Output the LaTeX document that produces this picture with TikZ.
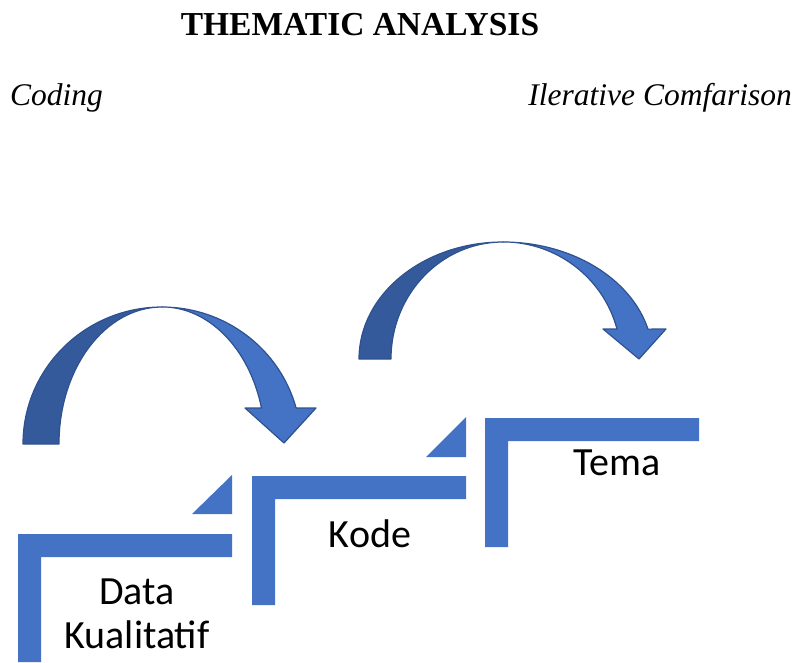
\documentclass[tikz,border=0pt]{standalone}
\usepackage{fontspec}
\setmainfont{Liberation Serif}
\newfontfamily\calibri{Carlito}
\usepackage{tikz}
\usetikzlibrary{shapes,arrows}
\definecolor{stepblue}{RGB}{68,114,196}
\definecolor{arcdark}{RGB}{52,90,156}
\definecolor{arcline}{RGB}{47,82,143}
\tikzstyle{stepbar} = [fill = stepblue, draw = none]
\tikzstyle{arcback} = [fill = arcdark, draw = arcline, line width = 1.2pt, line join = round]
\tikzstyle{arcfront} = [fill = stepblue, draw = arcline, line width = 1.2pt, line join = round]
\tikzstyle{steplabel} = [font = \calibri\fontsize{40}{44}\selectfont, align = center, anchor = base, inner sep = 0]
\tikzstyle{sidelabel} = [font = \fontsize{31.5}{36}\selectfont\itshape, anchor = base west, inner sep = 0]

\begin{document}
\begin{tikzpicture}[x = 1pt, y = -1pt]
\useasboundingbox (0,0) rectangle (795,662);
\node [font = \fontsize{33.5}{36}\selectfont\bfseries, anchor = base, inner sep = 0] (title) at (360,35) {THEMATIC ANALYSIS};
\node [sidelabel] (coding) at (10,105) {Coding};
\node [sidelabel, anchor = base east] (iterative) at (792,105) {Ilerative Comfarison};
% steps
\fill [stepbar] (18,534) -- (232,534) -- (232,557) -- (41,557) -- (41,662) -- (18,662) -- cycle;
\fill [stepbar] (232,475) -- (232,514) -- (192,514) -- cycle;
\fill [stepbar] (252,476) -- (466,476) -- (466,499) -- (275,499) -- (275,605) -- (252,605) -- cycle;
\fill [stepbar] (466,417) -- (466,457) -- (426,457) -- cycle;
\fill [stepbar] (485,418) -- (699,418) -- (699,441) -- (508,441) -- (508,547) -- (485,547) -- cycle;
\node [steplabel] (data) at (137,648) {Data\\Kualitatif};
\node [steplabel] (kode) at (370,547) {Kode};
\node [steplabel] (tema) at (617,475) {Tema};
% curved arrows
\draw [arcback] (23,444) arc [start angle = 180, end angle = 270, x radius = 139, y radius = 137]
  arc [start angle = 270, end angle = 180, x radius = 103, y radius = 137] -- cycle;
\draw [arcfront] (162,307) arc [start angle = 270, end angle = 344.8, x radius = 139, y radius = 137]
  -- (316,408) -- (284,443) -- (245,408) -- (261.5,408)
  arc [start angle = 344.8, end angle = 270, x radius = 103, y radius = 137] -- cycle;
\draw [arcback] (359,359) arc [start angle = 180, end angle = 270, x radius = 144, y radius = 117]
  arc [start angle = 270, end angle = 180, x radius = 112, y radius = 117] -- cycle;
\draw [arcfront] (503,242) arc [start angle = 270, end angle = 345.2, x radius = 150, y radius = 117]
  -- (666,329) -- (639,359) -- (603,329) -- (617,329)
  arc [start angle = 345.2, end angle = 270, x radius = 118, y radius = 117] -- cycle;
\end{tikzpicture}
\end{document}
